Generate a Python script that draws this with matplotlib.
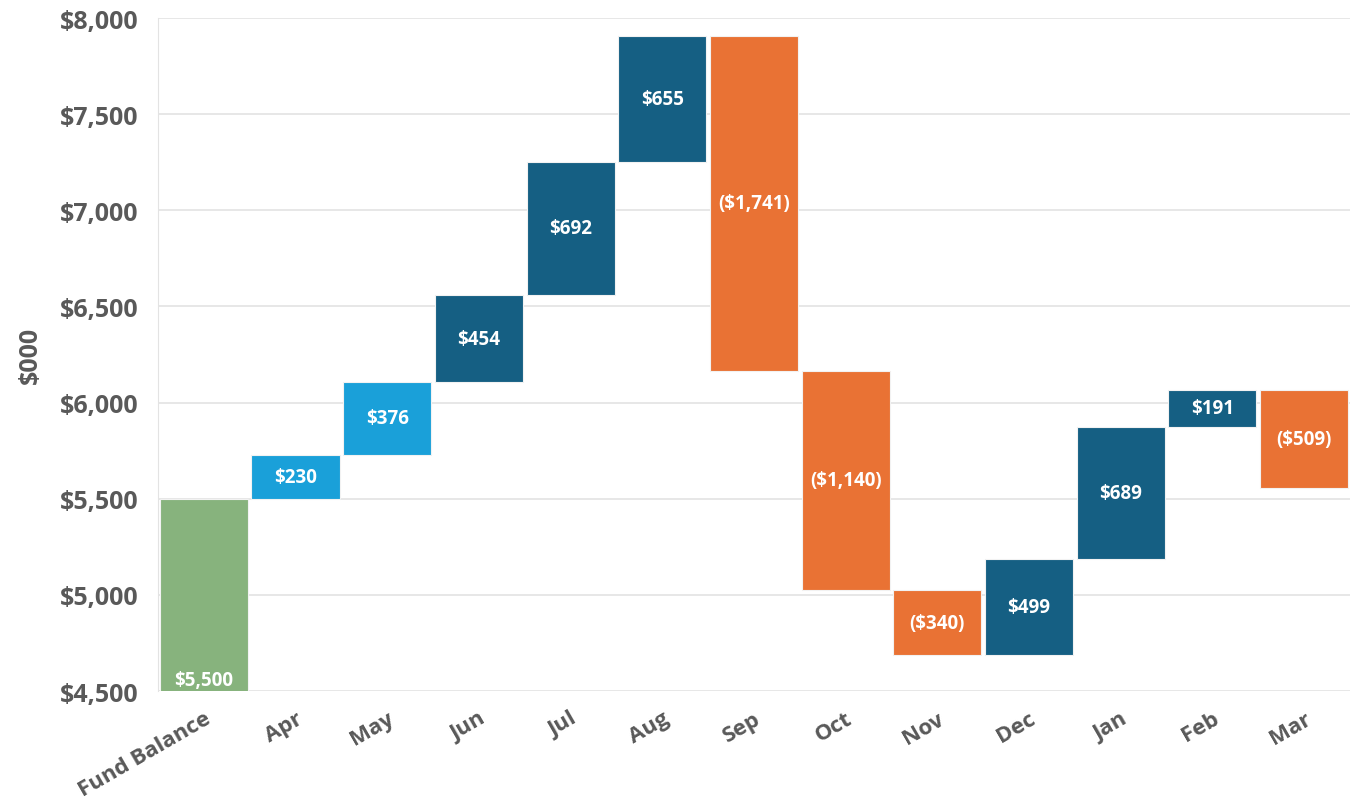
import matplotlib.pyplot as plt
import numpy as np

categories = ["Fund Balance", "Apr", "May", "Jun", "Jul", "Aug", "Sep",
              "Oct", "Nov", "Dec", "Jan", "Feb", "Mar"]
opening = 5500
changes = [230, 376, 454, 692, 655, -1741, -1140, -340, 499, 689, 191, -509]
bar_colors = ["#87b37d", "#1aa0d9", "#1aa0d9", "#155f83", "#155f83", "#155f83",
              "#e97234", "#e97234", "#e97234", "#155f83", "#155f83", "#155f83",
              "#e97234"]
yticks = [4500, 5000, 5500, 6000, 6500, 7000, 7500, 8000]

plt.rcParams['font.family'] = ['Open Sans', 'DejaVu Sans']

# waterfall bottoms / heights
ends = opening + np.cumsum(changes)
starts = np.concatenate([[opening], ends[:-1]])
bottoms = np.concatenate([[0], np.minimum(starts, ends)])
heights = np.concatenate([[opening], np.abs(changes)])

fig = plt.figure(figsize=(13.57, 8.03), dpi=100)
ax = fig.add_axes([0.1164, 0.1382, 0.8784, 0.8381])

x = np.arange(len(categories))
ax.bar(x, heights, bottom=bottoms, width=0.96, color=bar_colors,
       edgecolor="#f2f2f2", linewidth=0.8, zorder=3)

# labels
ax.text(0, yticks[0] + 5, "${:,}".format(opening), ha="center", va="bottom",
        color="white", fontsize=13.5, fontweight="bold", zorder=4)
for i, c in enumerate(changes, start=1):
    label = "${:,}".format(c) if c >= 0 else "(${:,})".format(-c)
    ax.text(i, bottoms[i] + heights[i] / 2, label, ha="center", va="center",
            color="white", fontsize=13.5, fontweight="bold", zorder=4)

ax.set_xlim(-0.5, len(categories) - 0.5)
ax.set_ylim(yticks[0], yticks[-1])
ax.set_yticks(yticks)
ax.set_yticklabels(["${:,}".format(v) for v in yticks])
ax.set_xticks(x)
ax.set_xticklabels(categories, rotation=30, ha="right", rotation_mode="anchor")

ax.grid(axis="y", color="#e3e3e3", linewidth=1.2, zorder=0)
for s in ["top", "right", "bottom"]:
    ax.spines[s].set_visible(False)
ax.spines["left"].set_color("#e3e3e3")
ax.tick_params(axis="both", length=0, labelcolor="#595959")
ax.tick_params(axis="y", pad=14, labelsize=18)
ax.tick_params(axis="x", pad=12, labelsize=16)
for lbl in ax.get_xticklabels() + ax.get_yticklabels():
    lbl.set_fontweight("bold")

ax.set_ylabel("$000", fontsize=18, fontweight="bold", color="#595959", labelpad=12)

fig.savefig("out.png", dpi=100)
